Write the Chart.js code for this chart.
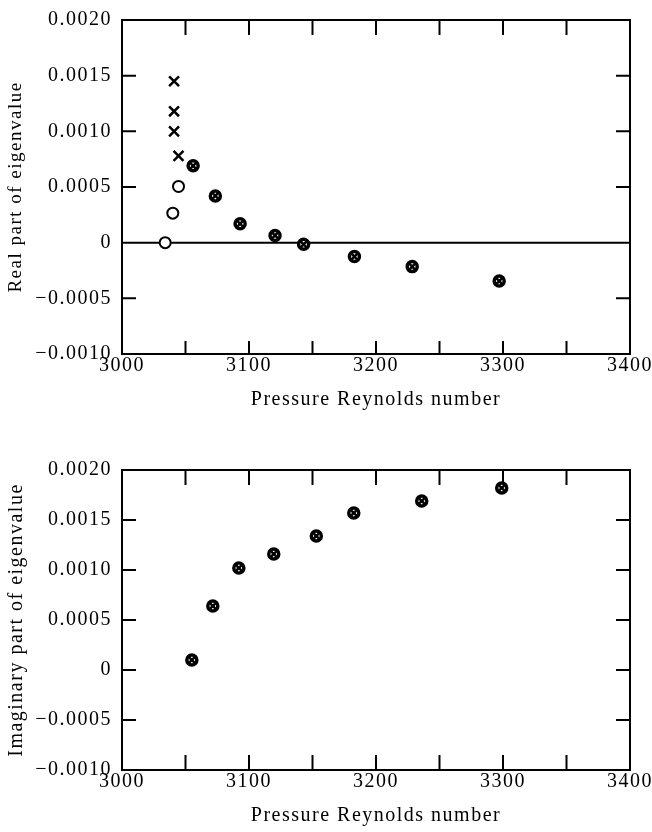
<!DOCTYPE html>
<html>
<head>
<meta charset="utf-8">
<script src="https://cdn.jsdelivr.net/npm/chart.js@4"></script>
<style>
  html, body { margin: 0; padding: 0; background: #fff; }
  canvas { display: block; }
</style>
</head>
<body>
<canvas id="realChart" width="652" height="416"></canvas>
<canvas id="imagChart" width="652" height="416"></canvas>
<script>
// Real part (top panel)
const crossRe = [3041, 3041, 3041, 3044.5];
const crossVal = [0.00145, 0.00118, 0.00100, 0.00078];
const openRe = [3034, 3040, 3044.5];
const openVal = [0.0, 0.000265, 0.000505];
const realRe = [3056, 3073.5, 3093, 3120.5, 3143, 3183, 3228.5, 3297];
const realVal = [0.00069, 0.00042, 0.00017, 0.000065, -0.000015, -0.000125, -0.000215, -0.000345];

// Imaginary part (bottom panel)
const imagRe = [3055, 3071.5, 3092, 3119.5, 3153, 3182.5, 3236, 3299];
const imagVal = [0.0001, 0.00064, 0.00102, 0.00116, 0.00134, 0.00157, 0.00169, 0.00182];

const xTitle = 'Pressure Reynolds number';
const FONT = 'Liberation Serif';

const pts = (xs, ys) => xs.map((x, i) => ({ x: x, y: ys[i] }));

// box, inward ticks on all four sides, optional zero line
const framePlugin = {
  id: 'frame',
  beforeDraw(chart) {
    chart.ctx.letterSpacing = '1.5px';
  },
  beforeDatasetsDraw(chart, args, opts) {
    const { ctx, chartArea: a, scales: { x, y } } = chart;
    ctx.save();
    ctx.strokeStyle = '#000';
    ctx.lineWidth = 2;
    ctx.lineCap = 'square';
    ctx.strokeRect(a.left, a.top, a.right - a.left, a.bottom - a.top);
    ctx.beginPath();
    x.ticks.forEach(t => {
      if (t.value <= x.min || t.value >= x.max) return;
      const px = x.getPixelForValue(t.value);
      ctx.moveTo(px, a.bottom);
      ctx.lineTo(px, a.bottom - opts.tickBottom);
      ctx.moveTo(px, a.top);
      ctx.lineTo(px, a.top + opts.tickTop);
    });
    y.ticks.forEach(t => {
      if (t.value <= y.min + 1e-9 || t.value >= y.max - 1e-9) return;
      const py = y.getPixelForValue(t.value);
      ctx.moveTo(a.left, py);
      ctx.lineTo(a.left + 13, py);
      ctx.moveTo(a.right, py);
      ctx.lineTo(a.right - 13, py);
    });
    if (opts.zeroLine) {
      const y0 = y.getPixelForValue(0);
      ctx.moveTo(a.left, y0);
      ctx.lineTo(a.right, y0);
    }
    ctx.stroke();
    ctx.restore();
  }
};

function axes(yTitle, yTitleSize) {
  return {
    x: {
      type: 'linear',
      min: 3000,
      max: 3400,
      afterFit: s => { s.height = 62; },
      grid: { display: false, drawTicks: false },
      border: { display: false },
      ticks: {
        stepSize: 50,
        autoSkip: false,
        maxRotation: 0,
        padding: 2,
        color: '#000',
        font: { family: FONT, size: 20, lineHeight: 1 },
        callback: v => (v % 100 === 0 ? String(v) : '')
      },
      title: {
        display: true,
        text: xTitle,
        color: '#000',
        font: { family: FONT, size: 20, lineHeight: 1 },
        padding: { top: 0, bottom: 6 }
      }
    },
    y: {
      type: 'linear',
      min: -0.001,
      max: 0.002,
      afterFit: s => { s.width = 122; },
      grid: { display: false, drawTicks: false },
      border: { display: false },
      ticks: {
        stepSize: 0.0005,
        autoSkip: false,
        padding: 10,
        color: '#000',
        font: { family: FONT, size: 20, lineHeight: 1 },
        callback: v => (Math.abs(v) < 1e-10 ? '0' : (v < 0 ? '\u2212' : '') + Math.abs(v).toFixed(4))
      },
      title: {
        display: true,
        text: yTitle,
        color: '#000',
        font: { family: FONT, size: yTitleSize, lineHeight: 1 },
        padding: { top: 7, bottom: 0 }
      }
    }
  };
}

// circled cross: small x drawn on top of a heavy black ring
function circledCross(data) {
  return [
    {
      data: data,
      pointStyle: 'crossRot',
      pointRadius: 4.5,
      pointBorderWidth: 2.5,
      pointBorderColor: '#000'
    },
    {
      data: data,
      pointStyle: 'circle',
      pointRadius: 5,
      pointBorderWidth: 3.5,
      pointBorderColor: '#000',
      pointBackgroundColor: '#fff'
    }
  ];
}

const common = {
  responsive: false,
  animation: false,
  events: [],
  plugins: { legend: { display: false }, tooltip: { enabled: false } }
};

new Chart(document.getElementById('realChart'), {
  type: 'scatter',
  data: {
    datasets: [
      {
        data: pts(crossRe, crossVal),
        pointStyle: 'crossRot',
        pointRadius: 7,
        pointBorderWidth: 2.5,
        pointBorderColor: '#000'
      },
      {
        data: pts(openRe, openVal),
        pointStyle: 'circle',
        pointRadius: 5.5,
        pointBorderWidth: 2,
        pointBorderColor: '#000',
        pointBackgroundColor: '#fff'
      },
      ...circledCross(pts(realRe, realVal))
    ]
  },
  options: {
    ...common,
    layout: { padding: { top: 13, right: 20, left: 0, bottom: 0 } },
    scales: axes('Real part of eigenvalue', 19),
    plugins: { ...common.plugins, frame: { tickTop: 14, tickBottom: 12, zeroLine: true } }
  },
  plugins: [framePlugin]
});

new Chart(document.getElementById('imagChart'), {
  type: 'scatter',
  data: { datasets: circledCross(pts(imagRe, imagVal)) },
  options: {
    ...common,
    layout: { padding: { top: 54, right: 19, left: 0, bottom: 0 } },
    scales: axes('Imaginary part of eigenvalue', 20),
    plugins: { ...common.plugins, frame: { tickTop: 14, tickBottom: 14, zeroLine: false } }
  },
  plugins: [framePlugin]
});
</script>
</body>
</html>
